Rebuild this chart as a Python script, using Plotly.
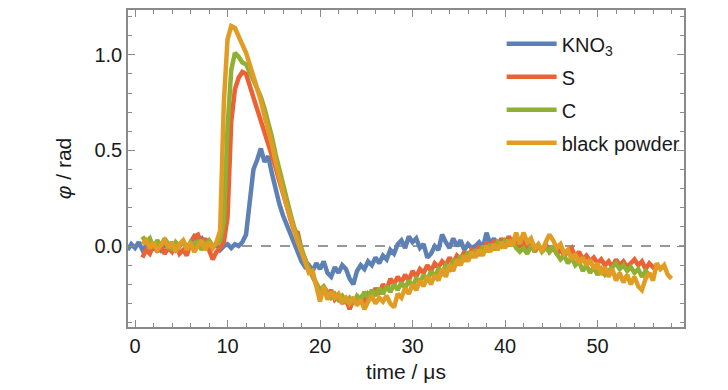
import numpy as np
import plotly.graph_objects as go

STEP = 0.4
t0_kno3 = -0.8
t0_other = 0.8

kno3 = [
    -0.02, 0.01, -0.01, 0.02, -0.02, 0.00, 0.02, -0.01, 0.01, -0.02,
    0.01, -0.01, 0.02, -0.02, 0.00, 0.02, -0.01, 0.01, 0.05, 0.03,
    0.04, 0.00, 0.02, -0.01, 0.01, -0.02, 0.00, 0.01, -0.01, 0.01,
    0.00, 0.02, 0.06, 0.25, 0.40, 0.45, 0.51, 0.44, 0.47, 0.38,
    0.29, 0.22, 0.16, 0.11, 0.07, 0.02, -0.04, -0.08, -0.11, -0.10,
    -0.13, -0.09, -0.12, -0.08, -0.14, -0.16, -0.11, -0.14, -0.10, -0.12,
    -0.17, -0.20, -0.13, -0.10, -0.12, -0.08, -0.10, -0.06, -0.09, -0.05,
    -0.07, -0.02, -0.04, 0.01, 0.03, -0.01, 0.05, 0.02, 0.04, -0.01,
    0.01, -0.06, -0.04, 0.00, -0.02, 0.06, 0.02, -0.01, 0.04, 0.00,
    0.03, -0.02, 0.01, -0.01, 0.00, 0.02, -0.01, 0.07, 0.01, 0.04,
    0.00, 0.03, -0.01,
]

sulfur = [
    -0.06, -0.02, -0.04, 0.01, -0.03, 0.00, -0.04, -0.01, -0.03, 0.01,
    -0.04, -0.02, -0.05, 0.02, 0.05, 0.06, 0.01, 0.04, -0.02, -0.07,
    -0.03, -0.01, 0.02, 0.15, 0.65, 0.82, 0.88, 0.91, 0.90, 0.84,
    0.77, 0.71, 0.65, 0.60, 0.54, 0.47, 0.41, 0.34, 0.28, 0.21,
    0.14, 0.08, 0.07, -0.02, -0.07, -0.12, -0.16, -0.20, -0.24, -0.22,
    -0.26, -0.23, -0.28, -0.26, -0.30, -0.27, -0.33, -0.28, -0.30, -0.27,
    -0.29, -0.25, -0.27, -0.22, -0.25, -0.20, -0.23, -0.17, -0.20, -0.16,
    -0.19, -0.15, -0.18, -0.13, -0.16, -0.12, -0.14, -0.10, -0.13, -0.09,
    -0.11, -0.08, -0.10, -0.06, -0.09, -0.05, -0.07, -0.03, -0.06, -0.02,
    -0.04, 0.00, -0.03, 0.02, -0.01, 0.03, 0.00, 0.04, 0.01, 0.05,
    0.02, 0.04, 0.00, 0.02, -0.02, 0.01, -0.03, 0.00, -0.02, 0.01,
    -0.03, -0.01, -0.04, -0.02, -0.05, -0.03, -0.01, -0.06, -0.03, -0.07,
    -0.05, -0.08, -0.06, -0.09, -0.07, -0.10, -0.08, -0.11, -0.07, -0.10,
    -0.08, -0.11, -0.09, -0.07, -0.10, -0.08, -0.12, -0.09, -0.11, -0.13,
]

carbon = [
    0.05, 0.02, 0.04, -0.01, 0.03, 0.00, 0.04, 0.01, -0.02, 0.02,
    0.00, 0.03, -0.01, 0.02, 0.00, 0.03, -0.02, 0.01, 0.03, 0.00,
    0.01, 0.03, 0.12, 0.62, 0.92, 1.01, 0.99, 0.96, 0.95, 0.91,
    0.87, 0.83, 0.78, 0.72, 0.65, 0.57, 0.48, 0.40, 0.31, 0.24,
    0.17, 0.10, 0.04, -0.01, -0.07, -0.12, -0.16, -0.19, -0.23, -0.21,
    -0.24, -0.27, -0.25, -0.28, -0.26, -0.29, -0.27, -0.30, -0.26, -0.28,
    -0.24, -0.27, -0.23, -0.26, -0.22, -0.25, -0.21, -0.24, -0.20, -0.23,
    -0.19, -0.22, -0.18, -0.21, -0.17, -0.19, -0.15, -0.18, -0.13, -0.16,
    -0.12, -0.14, -0.10, -0.12, -0.07, -0.10, -0.05, -0.08, -0.03, -0.06,
    -0.02, -0.05, 0.00, -0.03, 0.01, -0.02, 0.02, 0.00, 0.03, 0.01,
    0.03, -0.01, -0.03, -0.01, -0.04, 0.00, -0.02, 0.01, -0.03, -0.01,
    -0.03, 0.00, -0.04, -0.07, -0.05, -0.09, -0.06, -0.10, -0.08, -0.13,
    -0.10, -0.14, -0.11, -0.15, -0.12, -0.15, -0.13, -0.11, -0.09, -0.12,
    -0.10, -0.13, -0.11, -0.14, -0.12, -0.16, -0.13, -0.15,
]

black_powder = [
    0.01, 0.03, -0.01, 0.02, -0.02, 0.01, 0.03, -0.01, 0.02, -0.03,
    0.01, 0.03, -0.02, 0.02, -0.03, 0.00, 0.03, -0.02, 0.02, -0.01,
    0.02, 0.08, 0.75, 1.08, 1.15, 1.14, 1.10, 1.06, 1.01, 0.95,
    0.89, 0.82, 0.76, 0.68, 0.61, 0.53, 0.44, 0.35, 0.28, 0.21,
    0.14, 0.08, 0.02, -0.03, -0.09, -0.14, -0.13, -0.22, -0.29, -0.21,
    -0.28, -0.24, -0.27, -0.25, -0.29, -0.27, -0.30, -0.27, -0.31, -0.28,
    -0.33, -0.29, -0.26, -0.30, -0.27, -0.29, -0.26, -0.30, -0.32, -0.25,
    -0.27, -0.22, -0.25, -0.20, -0.23, -0.18, -0.21, -0.16, -0.20, -0.15,
    -0.18, -0.12, -0.16, -0.10, -0.13, -0.07, -0.10, -0.05, -0.08, -0.03,
    -0.06, -0.02, -0.05, 0.00, -0.03, 0.01, -0.02, 0.02, -0.01, 0.03,
    0.00, 0.07, 0.01, 0.07, 0.02, 0.04, -0.01, 0.01, -0.03, 0.02,
    0.06, 0.03, -0.01, 0.01, -0.04, -0.02, -0.07, -0.04, -0.09, -0.06,
    -0.10, -0.07, -0.12, -0.09, -0.15, -0.11, -0.16, -0.12, -0.18, -0.14,
    -0.19, -0.15, -0.20, -0.16, -0.21, -0.23, -0.17, -0.14, -0.18, -0.09,
    -0.12, -0.10, -0.15, -0.17,
]

series = [
    ("KNO<sub>3</sub>", t0_kno3, kno3, "#5E81B5"),
    ("S", t0_other, sulfur, "#EB6235"),
    ("C", t0_other, carbon, "#8FB032"),
    ("black powder", t0_other, black_powder, "#E19C24"),
]

x_ticks = [0, 10, 20, 30, 40, 50]
y_ticks = [0.0, 0.5, 1.0]

FONT = "Liberation Sans, Arial, sans-serif"
FRAME = "#8a8a8a"

fig = go.Figure()
for i, (name, t0, vals, color) in enumerate(series):
    t = t0 + STEP * np.arange(len(vals))
    fig.add_trace(go.Scatter(x=t, y=vals, mode="lines", name=name,
                             legendgroup=f"g{i}",
                             line=dict(color=color, width=4.5)))

fig.add_hline(y=0, line=dict(color="#777777", width=1.5, dash="10px,9px"),
              layer="below")

axis_common = dict(showline=True, linecolor=FRAME, linewidth=1.5, mirror="ticks",
                   ticks="inside", ticklen=7, tickcolor=FRAME, tickwidth=1,
                   showgrid=False, zeroline=False,
                   tickfont=dict(family=FONT, size=20, color="#1a1a1a"))

fig.update_layout(
    width=728, height=390,
    margin=dict(l=128, r=44, t=8, b=63),
    paper_bgcolor="white", plot_bgcolor="white",
    font=dict(family=FONT, size=20, color="#1a1a1a"),
    xaxis=dict(range=[-0.76, 59.35], tickvals=x_ticks,
               minor=dict(ticks="inside", ticklen=4, dtick=2, tickcolor=FRAME, showgrid=False),
               title=dict(text="time / μs", font=dict(family=FONT, size=21), standoff=9),
               **axis_common),
    yaxis=dict(range=[-0.423, 1.234], tickvals=y_ticks, tickformat=".1f",
               minor=dict(ticks="inside", ticklen=4, dtick=0.1, tickcolor=FRAME, showgrid=False),
               title=dict(text="<i>φ</i> / rad", font=dict(family=FONT, size=21), standoff=17),
               **axis_common),
    legend=dict(x=0.672, y=0.955, xanchor="left", yanchor="top",
                bgcolor="rgba(0,0,0,0)", font=dict(family=FONT, size=20),
                itemwidth=50, tracegroupgap=4),
    showlegend=True,
)

fig.write_html("out.html", config={"displayModeBar": False},
               post_script="document.body.style.margin='0';")
